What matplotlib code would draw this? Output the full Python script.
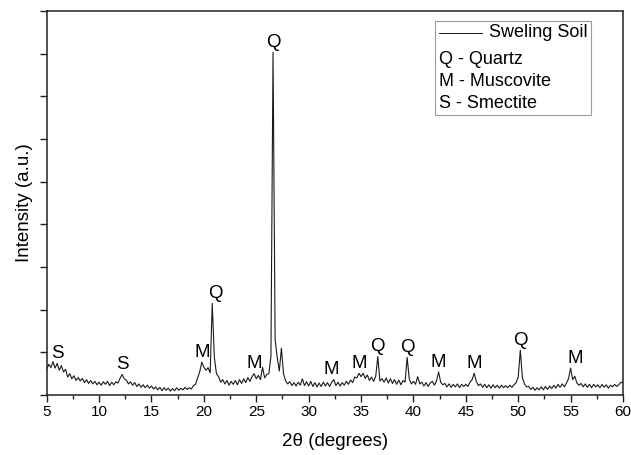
import numpy as np
import matplotlib
matplotlib.use('Agg')
import matplotlib.pyplot as plt
from matplotlib.patches import Rectangle
from matplotlib.ticker import MultipleLocator

plt.rcParams.update({
    'font.family': ['Liberation Sans', 'DejaVu Sans'],
    'font.size': 11,
})

# --- data: XRD pattern (2-theta step 0.2 deg) ---
two_theta = np.round(np.arange(5.0, 60.01, 0.2), 1)

counts_05_10 = [600, 720, 640, 780, 630, 740, 580, 690, 540, 600, 420, 500, 380,
                450, 340, 410, 330, 390, 290, 360, 270, 340, 260, 320, 240]
counts_10_15 = [300, 230, 310, 250, 320, 220, 300, 240, 310, 280, 390, 480, 380,
                350, 260, 310, 230, 290, 200, 260, 180, 240, 170, 230, 160]
counts_15_20 = [210, 140, 190, 120, 180, 100, 170, 110, 160, 90, 150, 100, 170,
                110, 160, 120, 180, 130, 170, 140, 220, 250, 400, 540, 770]
counts_20_25 = [650, 580, 640, 520, 2150, 880, 500, 430, 300, 360, 260, 340, 230,
                320, 250, 340, 240, 360, 270, 380, 290, 410, 320, 430, 500]
counts_25_30 = [380, 460, 360, 650, 400, 480, 500, 900, 8030, 1300, 880, 560, 1100,
                500, 330, 260, 310, 220, 290, 210, 300, 230, 380, 220, 310]
counts_30_35 = [210, 320, 200, 290, 190, 280, 200, 300, 210, 290, 200, 300, 360,
                220, 300, 210, 290, 230, 320, 250, 350, 290, 420, 400, 510]
counts_35_40 = [430, 510, 390, 470, 340, 420, 320, 440, 900, 330, 380, 300, 400,
                280, 380, 270, 360, 250, 350, 240, 340, 300, 880, 380, 260]
counts_40_45 = [320, 250, 430, 260, 300, 210, 290, 200, 280, 320, 230, 330, 540,
                300, 240, 270, 190, 260, 180, 250, 190, 260, 170, 250, 200]
counts_45_50 = [250, 200, 300, 360, 510, 320, 220, 260, 180, 250, 170, 240, 160,
                240, 170, 230, 160, 230, 170, 220, 170, 230, 180, 240, 290]
counts_50_55 = [420, 1050, 400, 260, 190, 200, 130, 180, 110, 170, 120, 190, 120,
                200, 130, 210, 150, 230, 160, 250, 180, 260, 190, 280, 380]
counts_55_60 = [630, 360, 440, 280, 230, 270, 190, 260, 180, 250, 170, 250, 190,
                240, 170, 250, 180, 240, 160, 230, 190, 250, 200, 240, 300, 280]

intensity = np.array(counts_05_10 + counts_10_15 + counts_15_20 + counts_20_25
                     + counts_25_30 + counts_30_35 + counts_35_40 + counts_40_45
                     + counts_45_50 + counts_50_55 + counts_55_60)

# phase labels at peaks
peak_labels = ['S', 'S', 'M', 'Q', 'M', 'Q', 'M', 'M', 'Q', 'Q', 'M', 'M', 'Q', 'M']
peak_angles = [6.0, 12.2, 19.8, 20.8, 24.8, 26.6, 32.4, 34.8, 36.6, 39.4, 42.4, 45.8, 50.2, 55.0]
label_dx = [0, 0, 0, 2, 0, 0, -2, 0, 0, 0, 0, 0, 0, 3]

legend_rows = ['Q - Quartz', 'M - Muscovite', 'S - Smectite']

# --- figure ---
fig = plt.figure(figsize=(6.31, 4.55), dpi=100)
ax = fig.add_axes([46.7 / 631, 60 / 455, 576.3 / 631, 384 / 455])

ax.plot(two_theta, intensity, color='#1a1a1a', linewidth=0.8)

for lab, ang, dx in zip(peak_labels, peak_angles, label_dx):
    i = np.argmin(np.abs(two_theta - ang))
    ax.annotate(lab, xy=(two_theta[i], intensity[i]), xytext=(dx, 1),
                textcoords='offset points', ha='center', va='bottom', fontsize=13.5)

ax.set_xlim(5, 60)
ax.set_ylim(0, 9000)
ax.xaxis.set_major_locator(MultipleLocator(5))
ax.xaxis.set_minor_locator(MultipleLocator(2.5))
ax.yaxis.set_major_locator(MultipleLocator(1000))
ax.set_yticklabels([])
ax.tick_params(axis='both', which='major', direction='out', length=5, width=1.0,
               color='#222222', labelsize=11, pad=2)
ax.tick_params(axis='x', which='minor', direction='out', length=3, width=1.0, color='#222222')
for s in ax.spines.values():
    s.set_linewidth(1.1)
    s.set_color('#222222')

ax.set_xlabel('2θ (degrees)', fontsize=13.5, labelpad=10)
ax.set_ylabel('Intensity (a.u.)', fontsize=13.5, labelpad=3)

# legend box drawn by hand (first row with line, others text only)
ax.add_patch(Rectangle((0.674, 0.729), 0.2705, 0.245, transform=ax.transAxes,
                       facecolor='white', edgecolor='#9a9a9a', linewidth=0.8, zorder=5))
ax.plot([0.681, 0.755], [0.943, 0.943], transform=ax.transAxes, color='#1a1a1a',
        linewidth=0.7, zorder=6)
ax.text(0.939, 0.943, 'Sweling Soil', transform=ax.transAxes, ha='right', va='center',
        fontsize=13, zorder=6)
for j, row in enumerate(legend_rows):
    ax.text(0.681, 0.875 - j * 0.0585, row, transform=ax.transAxes, ha='left',
            va='center', fontsize=13, zorder=6)

fig.savefig('out.png', dpi=100)
